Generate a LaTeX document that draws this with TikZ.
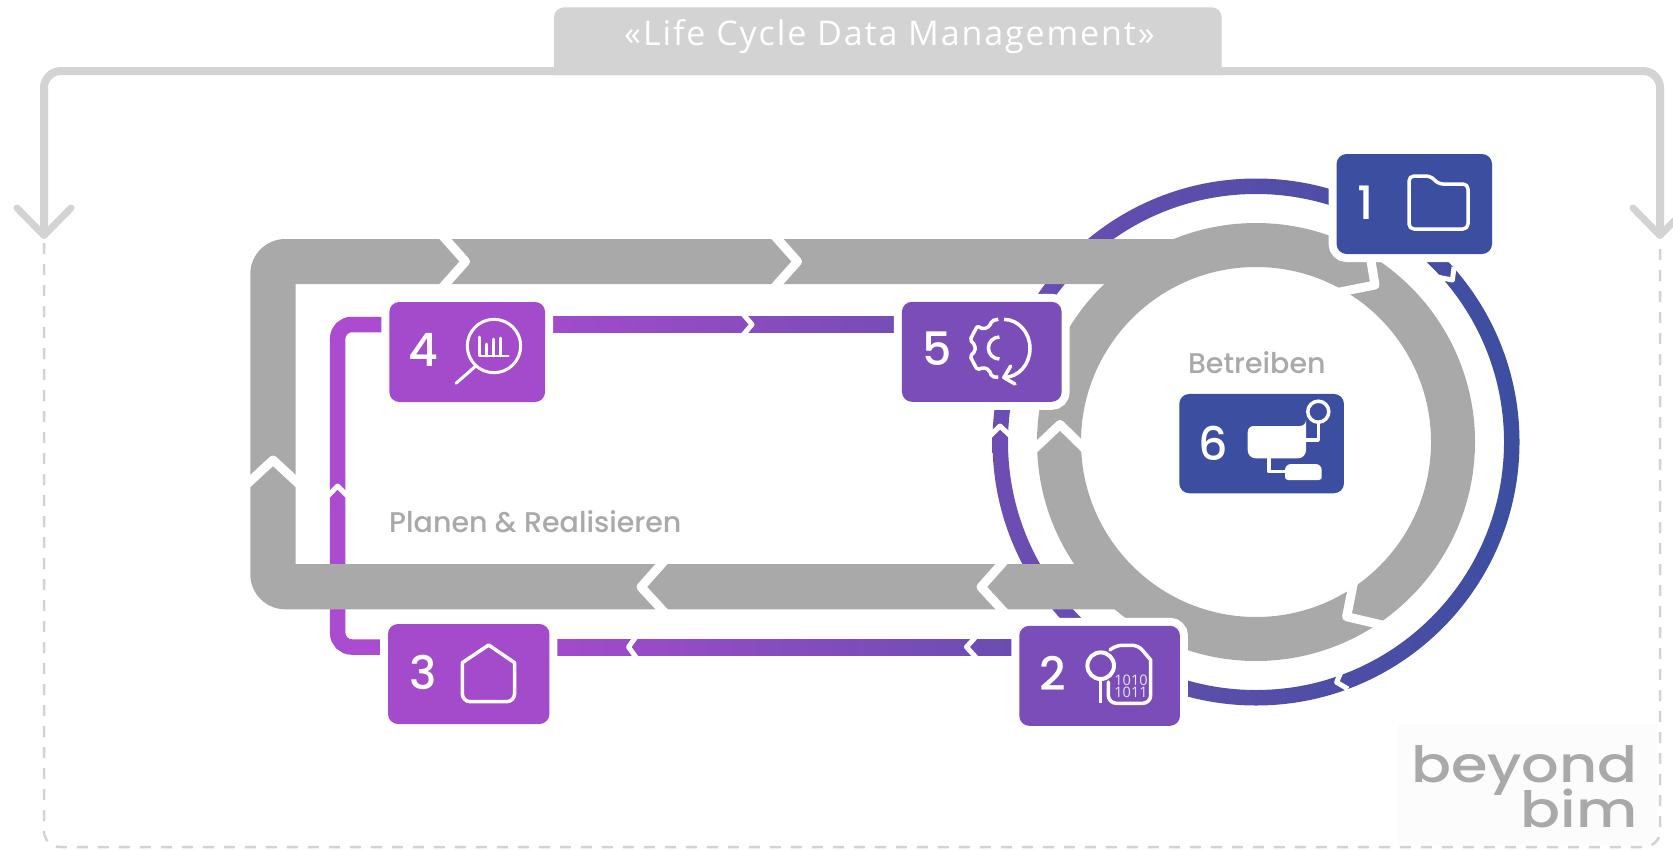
\documentclass[tikz,border=0pt]{standalone}
\usepackage{fontspec}
\setmainfont{Open Sans}
\newfontfamily\poppins[UprightFont=* Medium,BoldFont=* Bold]{Poppins}
\newfontfamily\titlefont[LetterSpace=5.6]{Open Sans}
\usetikzlibrary{calc}
\definecolor{cfour}{HTML}{A34BCB}
\definecolor{cfive}{HTML}{7B4DB8}
\definecolor{cone}{HTML}{3C4E9F}
\definecolor{band}{HTML}{A9A9A9}
\definecolor{frame}{HTML}{D3D3D3}
\definecolor{trackleft}{HTML}{AA4BD0}
\pgfdeclarelayer{back}
\pgfsetlayers{back,main}
\tikzset{
  box/.style={rectangle,rounded corners=10pt,inner sep=0pt,minimum width=#1,minimum height=100pt,
    preaction={draw=white,line width=16pt}},
  num/.style={font=\poppins\fontsize{46}{46}\selectfont,text=white,inner sep=0pt},
  gapbig/.style={draw=white,line width=9pt,line join=round},
  gapsmall/.style={draw=white,line width=5pt,line join=round},
  icon/.style={draw=white,line width=3.5pt,line join=round,line cap=round},
  iconthin/.style={draw=white,line width=2.6pt,line join=round,line cap=round},
  lab/.style={font=\poppins\fontsize{28.5}{28.5}\selectfont,text=band,inner sep=0pt},
  framearrow/.style={draw=frame,line width=7pt,line cap=round,line join=round},
  frameline/.style={draw=frame,line width=8pt,rounded corners=17pt},
  framedash/.style={draw=frame,line width=2.5pt,dash pattern=on 11pt off 10pt,rounded corners=16pt},
  track/.style={draw=trackleft,line width=15.5pt,rounded corners=14pt}
}
\begin{document}
\begin{tikzpicture}[x=1pt,y=-1pt]
\useasboundingbox (0,0) rectangle (1673,849);
\clip (0,0) rectangle (1673,849);

% nodes
\node[box=155.4pt,fill=cone] (n1) at (1414.3,204) {};
\node[box=160.7pt,fill=cfive] (n2) at (1099.6,675.8) {};
\node[box=161.4pt,fill=cfour] (n3) at (468.7,674) {};
\node[box=155.7pt,fill=cfour] (n4) at (467.2,352) {};
\node[box=159.7pt,fill=cfive] (n5) at (981.8,351.8) {};
\node[rectangle,rounded corners=10pt,inner sep=0pt,minimum width=164.7pt,minimum height=99.3pt,fill=cone] (n6) at (1261.6,443.6) {};

\node[num] (d1) at (1366,203) {1};
\node[num] (d2) at (1053,673) {2};
\node[num] (d3) at (423,672) {3};
\node[num] (d4) at (423,350) {4};
\node[num] (d5) at (936.7,349) {5};
\node[num] (d6) at (1213,443) {6};

% title tab and labels
\fill[frame,rounded corners=10pt] (554,75) [sharp corners] -- (554,75) [rounded corners=10pt] -- (554,7.3) -- (1221.6,7.3) [sharp corners] -- (1221.6,75) -- cycle;
\node[font=\titlefont\fontsize{34}{34}\selectfont,text=white,inner sep=0pt] (title) at (889.5,37) {«Life Cycle Data Management»};
\node[lab] (betr) at (1256.8,363) {Betreiben};
\node[lab,anchor=west] (plan) at (389,522) {Planen \& Realisieren};

% icon 1: folder
\draw[icon] [rounded corners=5pt] (1409,176) -- (1431,176) -- (1438,184) -- (1468,184) -- (1468,229) -- (1409,229) -- cycle;
% icon 2: pin and card
\draw[icon,line width=4pt] (1100.7,665.7) circle[radius=13.3];
\draw[icon,line cap=butt] (1100.7,679.3) -- (1100.7,703.3);
\draw[icon] (1110,650) [rounded corners=6pt] -- (1116,645.3) -- (1138.3,645.3) [sharp corners] -- (1150.7,660) [rounded corners=8pt] -- (1150.7,703.3) -- (1108.3,703.3) [sharp corners] -- (1108.3,682);
\node[font=\fontsize{14.5}{14.5}\selectfont,text=white!85!cfive,inner sep=0pt] (bitsa) at (1131,680.5) {1010};
\node[font=\fontsize{14.5}{14.5}\selectfont,text=white!85!cfive,inner sep=0pt] (bitsb) at (1131,692.5) {1011};
% icon 3: house
\draw[icon] (488.7,645) -- (514.6,662.7) [rounded corners=8pt] -- (514.6,701.7) -- (462.3,701.7) [sharp corners] -- (462.3,662.7) -- cycle;
% icon 4: magnifier chart
\draw[icon,line width=3pt] (494,346) circle[radius=26.7];
\draw[icon,line width=3pt] (475,366.7) -- (456,383.3);
\draw[iconthin] (479.3,337) -- (479.3,356) -- (508.3,356);
\draw[iconthin] (486.7,356) -- (486.7,344);
\draw[iconthin] (493.5,356) -- (493.5,339);
\draw[iconthin] (500.7,356) -- (500.7,338);
% icon 5: gear and arrow
\draw[icon,line cap=butt,rounded corners=2pt] (998.3,319.3) -- (991.7,320.7) -- (990,326) -- (983.3,329.3) -- (977.3,326) -- (970,340) -- (975,345) -- (975,351.7) -- (970,356) -- (977.3,370) -- (983.3,367.3) -- (989.3,370) -- (991.7,376.7) -- (998.3,377.3);
\draw[icon,line cap=butt] (999.4,337) arc[start angle=90,end angle=270,radius=11,y radius=-11];
\draw[icon,line cap=butt] (1004,319.4) arc[start angle=90,end angle=-90,x radius=26,y radius=-29];
\draw[icon] (1010.7,366) -- (1003.8,377.5) -- (1015,384);
% icon 6: network
\fill[white] [rounded corners=6pt] (1247.7,458.3) -- (1247.7,426) -- (1306,426) [sharp corners] -- (1306,426) [rounded corners=8pt] -- (1306,458.3) -- cycle;
\draw[icon,line cap=butt] (1306,440) -- (1318.3,440) -- (1318.3,422);
\draw[icon] (1318.3,411.7) circle[radius=10.5];
\draw[icon,line cap=butt] (1269,458.3) -- (1269,471.7) -- (1285,471.7);
\fill[white] [rounded corners=3pt] (1285,464) -- (1285,480) -- (1321.7,480) [sharp corners] -- (1321.7,480) [rounded corners=6pt] -- (1321.7,464) -- cycle;

\begin{pgfonlayer}{back}
  % logo
  \fill[white!99!black] (1398,724) rectangle (1657,845);
  \node[font=\poppins\fontsize{50}{49}\selectfont,text=band,inner sep=0pt,anchor=base east,xscale=1.18,align=right] (logo) at (1638,827) {beyond\\[-8pt]bim};

  % outer frame
  \coordinate (flefttip) at (44,235.5);
  \coordinate (frighttip) at (1660,235.5);
  \coordinate (ftopl) at (44,71);
  \coordinate (ftopr) at (1660,71);
  \coordinate (fbotl) at (44,847);
  \coordinate (fbotr) at (1660,847);
  \draw[frameline] (flefttip) -- (ftopl) -- (ftopr) -- (frighttip);
  \draw[framearrow] (17,208) -- (flefttip) -- (71,208);
  \draw[framearrow] (1633,208) -- (frighttip) -- (1687,208);
  \draw[framedash] (44,243) -- (fbotl) -- (fbotr) -- (1660,243);

  % circle centre
  \coordinate (cc) at (1256,442);

  % blue ring
  \shade[even odd rule,left color=cfive!80!cone,right color=cone] (cc) circle[radius=263.5] (cc) circle[radius=248];

  % purple tracks
  \shade[left color=cfour,right color=cfive!90!cone] ([yshift=35.3pt]n4.east) rectangle ([yshift=19.7pt]n5.west);
  \shade[left color=cfour,right color=cfive!72!cone] ([yshift=35pt]n3.east) rectangle ([yshift=20.8pt]n2.west);
  \coordinate (tl) at (337.7,500);
  \draw[track] ([yshift=27.5pt]n4.west) -| (tl) |- ([yshift=27pt]n3.west);

  % grey band and ring
  \fill[band] (1177,239) [rounded corners=35pt] -- (250.3,239) -- (250.3,609.3) [sharp corners] -- (1120,609.3) -- (1120,564) -- (295.5,564) -- (295.5,284) -- (1177,284) -- cycle;
  \draw[draw=band,line width=44pt] (cc) circle[radius=197];

  % gaps in grey
  \draw[gapbig] (441,234) -- (465.5,261.5) -- (441,289);
  \draw[gapbig] (773,234) -- (797.5,261.5) -- (773,289);
  \draw[gapbig] (246,485) -- (273,460) -- (300,485);
  \draw[gapbig] (666,559) -- (641,587) -- (666,614);
  \draw[gapbig] (1006,559) -- (981,587) -- (1006,614);
  \draw[gapbig] (1033,450) -- (1060,424.5) -- (1086,450);
  \draw[gapbig] (1370,255) -- (1375,285) -- (1335,293);
  \draw[gapbig] (1355,575) -- (1346.6,616.7) -- (1395,628);

  % gaps in coloured tracks
  \draw[gapsmall] (743,314) -- (752,324.5) -- (743,335);
  \draw[gapsmall] (636.5,636) -- (628.5,647) -- (636.5,658);
  \draw[gapsmall] (976.5,636) -- (966.5,647) -- (976.5,658);
  \draw[gapsmall] (328,496) -- (337.5,486) -- (347.5,496);
  \draw[gapsmall] (990,436) -- (1000,426) -- (1010.5,436);
  \draw[gapsmall] (1437,277) -- (1452.4,280) -- (1454,267);
  \draw[gapsmall] (1341,672) -- (1336.6,682.3) -- (1348,689);
\end{pgfonlayer}
\end{tikzpicture}
\end{document}
